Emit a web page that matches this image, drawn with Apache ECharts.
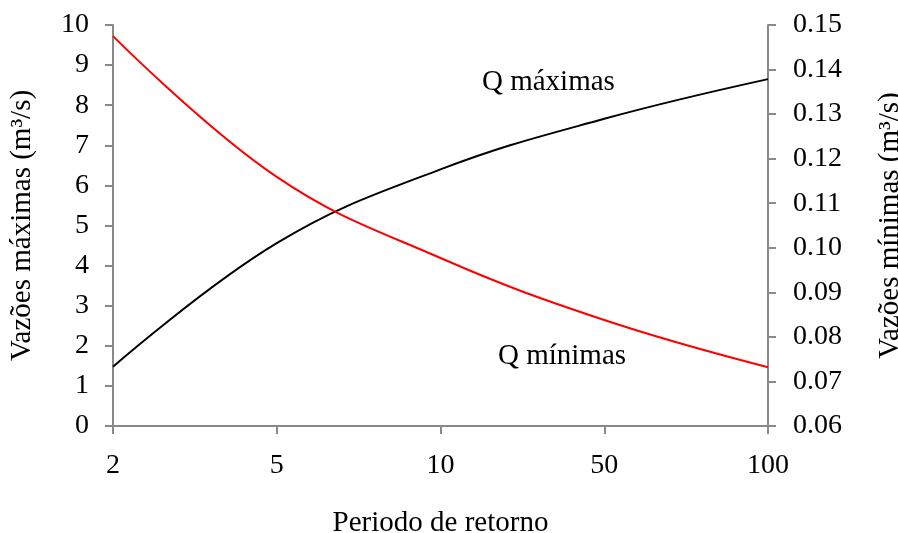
<!DOCTYPE html>
<html><head><meta charset="utf-8">
<script src="https://cdn.jsdelivr.net/npm/echarts@6/dist/echarts.min.js"></script>
<style>html,body{margin:0;padding:0;background:#fff}#c{width:898px;height:533px}</style>
</head><body><div id="c"></div>
<script>
const periods = ['2', '5', '10', '50', '100'];
const qMax = [1.48, 4.56, 6.40, 7.66, 8.65];
const qMin = [0.1475, 0.1159, 0.0977, 0.0838, 0.0732];
const leftTicks = {min: 0, max: 10, interval: 1};
const rightTicks = {min: 0.06, max: 0.15, interval: 0.01};
const labelMax = 'Q máximas';
const labelMin = 'Q mínimas';

const FONT = 'Liberation Serif';
const AX = '#898989';
const chart = echarts.init(document.getElementById('c'), null, {renderer: 'canvas'});
const axisCommon = {
  axisLine: {show: true, lineStyle: {color: AX, width: 2}},
  axisTick: {show: true, length: 8, lineStyle: {color: AX, width: 2}},
  splitLine: {show: false},
  axisLabel: {color: '#000', fontFamily: FONT, fontSize: 28, margin: 24},
  nameTextStyle: {color: '#000', fontFamily: FONT, fontSize: 29}
};
chart.setOption({
  animation: false,
  grid: {left: 113, right: 130, top: 25, bottom: 107, containLabel: false, outerBoundsMode: 'none'},
  xAxis: Object.assign({}, axisCommon, {
    type: 'category', data: periods, boundaryGap: false,
    name: 'Periodo de retorno', nameLocation: 'middle', nameGap: 83,
    axisLabel: Object.assign({}, axisCommon.axisLabel, {margin: 26})
  }),
  yAxis: [
    Object.assign({}, axisCommon, {
      type: 'value', position: 'left', min: leftTicks.min, max: leftTicks.max, interval: leftTicks.interval,
      name: 'Vazões máximas (m³/s)', nameLocation: 'middle', nameGap: 76
    }),
    Object.assign({}, axisCommon, {
      type: 'value', position: 'right', min: rightTicks.min, max: rightTicks.max, interval: rightTicks.interval,
      name: 'Vazões mínimas (m³/s)', nameLocation: 'middle', nameGap: 108,
      axisLabel: Object.assign({}, axisCommon.axisLabel, {margin: 25, formatter: v => v.toFixed(2)})
    })
  ],
  series: [
    {type: 'line', name: labelMax, data: qMax, yAxisIndex: 0, smooth: 0.4, showSymbol: false,
     lineStyle: {color: '#000', width: 2}, itemStyle: {color: '#000'}},
    {type: 'line', name: labelMin, data: qMin, yAxisIndex: 1, smooth: 0.4, showSymbol: false,
     lineStyle: {color: '#ff0000', width: 2}, itemStyle: {color: '#ff0000'}}
  ],
  graphic: [
    {type: 'text', left: 482, top: 68, style: {text: labelMax, font: '29px "Liberation Serif"', fill: '#000'}},
    {type: 'text', left: 498, top: 342, style: {text: labelMin, font: '29px "Liberation Serif"', fill: '#000'}}
  ]
});
</script></body></html>
